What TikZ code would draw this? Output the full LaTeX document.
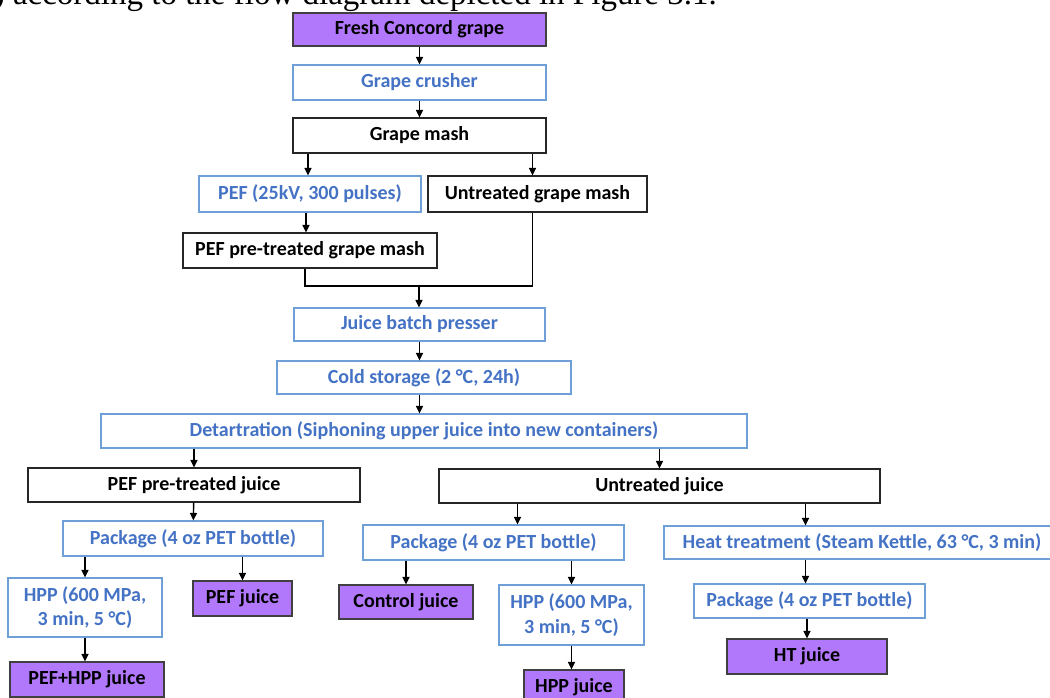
\documentclass[tikz,border=0pt]{standalone}
\usepackage{fontspec}
\setmainfont{Carlito}
\newfontfamily\bodyserif{Liberation Serif}
\usepackage{xcolor}
\usetikzlibrary{arrows.meta,positioning}

\definecolor{stepblue}{RGB}{68,114,196}
\definecolor{edgeblue}{RGB}{110,160,215}
\definecolor{juicepurple}{RGB}{178,120,252}

\begin{document}
\begin{tikzpicture}[x=1pt,y=-1pt,
    font=\fontsize{20}{24.5}\selectfont\bfseries,
    box/.style={draw, inner sep=0pt, align=center},
    stepbox/.style={box, draw=edgeblue, line width=1.1pt, text=stepblue},
    mashbox/.style={box, draw=black!85, line width=1.1pt, text=black},
    juicebox/.style={box, draw=black!75, line width=1.1pt, fill=juicepurple, text=black},
    flow/.style={-{Triangle[width=7pt,length=7.5pt]}, line width=1.4pt, black}]
        \useasboundingbox (0,0) rectangle (1050,698);
        \clip (0,0) rectangle (1050,698);

        % Running text above the figure
        \node[anchor=base east, inner sep=0pt, font=\bodyserif\fontsize{33}{36}\selectfont] (caption) at (717,4.5) {1) according to the flow diagram depicted in Figure 3.1.};

        % Mash preparation
        \node[juicebox, minimum width=253, minimum height=33] (fresh) at (419.5,29.5) {Fresh Concord grape};
        \node[stepbox, minimum width=253, minimum height=35] (crusher) at (419.5,82.5) {Grape crusher};
        \node[mashbox, minimum width=253, minimum height=35] (mash) at (419.5,135.5) {Grape mash};
        \node[stepbox, minimum width=222, minimum height=36] (pef) at (310,194) {PEF (25kV, 300 pulses)};
        \node[mashbox, minimum width=219, minimum height=36] (untrmash) at (537.5,194) {Untreated grape mash};
        \node[mashbox, minimum width=254, minimum height=35] (pefmash) at (310,250.5) {PEF pre-treated grape mash};

        % Pressing and storage
        \coordinate (join) at (419,286);
        \node[stepbox, minimum width=251, minimum height=33] (presser) at (419.5,324.5) {Juice batch presser};
        \node[stepbox, minimum width=294, minimum height=33] (cold) at (424,377.5) {Cold storage (2 °C, 24h)};
        \node[stepbox, minimum width=646, minimum height=34] (detart) at (424,431) {Detartration (Siphoning upper juice into new containers)};

        % Juice streams
        \node[mashbox, minimum width=332, minimum height=34] (pefjuice) at (194,485) {PEF pre-treated juice};
        \node[mashbox, minimum width=441, minimum height=34] (untrjuice) at (659.5,486) {Untreated juice};

        % PEF branch
        \node[stepbox, minimum width=260, minimum height=35] (packA) at (193,538.5) {Package (4 oz PET bottle)};
        \node[stepbox, minimum width=154, minimum height=59] (hppA) at (85,607.5) {HPP (600 MPa,\\3 min, 5 °C)};
        \node[juicebox, minimum width=99, minimum height=35] (pefonly) at (242.5,598.5) {PEF juice};
        \node[juicebox, minimum width=154, minimum height=35] (pefhpp) at (87,679.5) {PEF+HPP juice};

        % Untreated branch
        \node[stepbox, minimum width=261, minimum height=35] (packB) at (493.5,542.5) {Package (4 oz PET bottle)};
        \node[juicebox, minimum width=134, minimum height=34] (control) at (406,602) {Control juice};
        \node[stepbox, minimum width=145, minimum height=60] (hppB) at (571.5,615) {HPP (600 MPa,\\3 min, 5 °C)};
        \node[juicebox, minimum width=100, minimum height=34] (hppjuice) at (574,687) {HPP juice};

        % Heat branch
        \node[stepbox, minimum width=396, minimum height=33] (heat) at (862,542.5) {Heat treatment (Steam Kettle, 63 °C, 3 min)};
        \node[stepbox, minimum width=231, minimum height=34] (packC) at (809.5,601) {Package (4 oz PET bottle)};
        \node[juicebox, minimum width=160, minimum height=35] (htjuice) at (807,656.5) {HT juice};

        % Connectors
        \draw[flow] (fresh) -- (crusher);
        \draw[flow] (crusher) -- (mash);
        \draw[flow] ([xshift=-2pt]mash.south -| pef.north) -- ([xshift=-2pt]pef.north);
        \draw[flow] ([xshift=-5pt]mash.south -| untrmash.north) -- ([xshift=-5pt]untrmash.north);
        \draw[flow] ([xshift=-4pt]pef.south) -- ([xshift=-4pt]pefmash.north);
        \draw[line width=1.4pt] ([xshift=-5pt]pefmash.south) |- (join) -| ([xshift=-5pt]untrmash.south);
        \draw[flow] (join) -- (join |- presser.north);
        \draw[flow] (presser.south) -- (presser.south |- cold.north);
        \draw[flow] (presser.south |- cold.south) -- (presser.south |- detart.north);
        \draw[flow] (detart.south -| pefjuice.north) -- (pefjuice.north);
        \draw[flow] (detart.south -| untrjuice.north) -- (untrjuice.north);
        \draw[flow] (pefjuice) -- (packA);
        \draw[flow] (packA.south -| hppA.north) -- (hppA.north);
        \draw[flow] (packA.south -| pefonly.north) -- (pefonly.north);
        \draw[flow] (hppA.south) -- (hppA.south |- pefhpp.north);
        \draw[flow] ([xshift=24pt]untrjuice.south -| packB.north) -- ([xshift=24pt]packB.north);
        \draw[flow] ([xshift=-4pt]untrjuice.south -| packC.north) -- ([xshift=-4pt]packC.north |- heat.north);
        \draw[flow] (packB.south -| control.north) -- (control.north);
        \draw[flow] (packB.south -| hppB.north) -- (hppB.north);
        \draw[flow] (hppB.south) -- (hppB.south |- hppjuice.north);
        \draw[flow] ([xshift=-4pt]packC.north |- heat.south) -- ([xshift=-4pt]packC.north);
        \draw[flow] (packC.south -| htjuice.north) -- (htjuice.north);
    \end{tikzpicture}
\end{document}
